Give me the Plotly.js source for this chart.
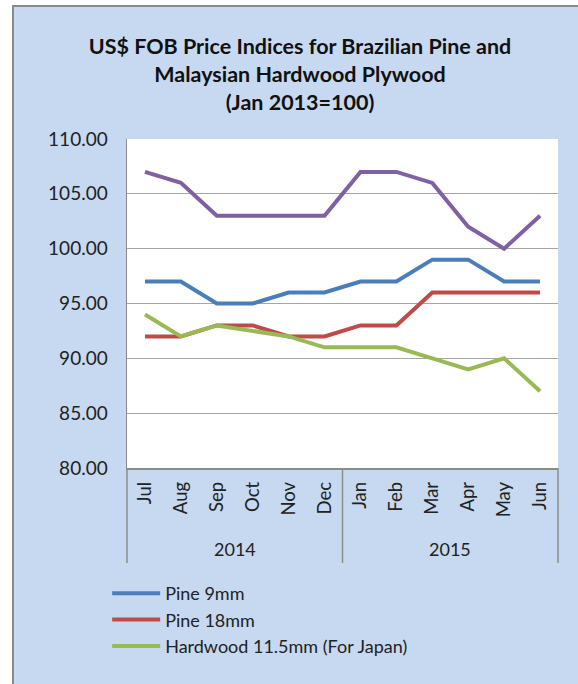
<!DOCTYPE html>
<html>
<head>
<meta charset="utf-8">
<script src="https://cdn.plot.ly/plotly-3.0.1.min.js"></script>
<style>
html,body{margin:0;padding:0;background:#ffffff;overflow:hidden;width:578px;height:684px;}
#wrap{position:absolute;left:12px;top:5px;width:570px;height:685px;border-left:2px solid #8a8a8a;border-top:2px solid #8a8a8a;background:#c6d9f1;}
#chart{width:570px;height:685px;}
</style>
</head>
<body>
<div id="wrap"><div id="chart"></div></div>
<script>
const months = ["Jul","Aug","Sep","Oct","Nov","Dec","Jan","Feb","Mar","Apr","May","Jun"];
const years = ["2014","2015"];
const yearSpans = [[0,5],[6,11]];
const pine9 = [97,97,95,95,96,96,97,97,99,99,97,97];
const pine18 = [92,92,93,93,92,92,93,93,96,96,96,96];
const hardwoodJapan = [94,92,93,92.5,92,91,91,91,90,89,90,87];
const series4 = [107,106,103,103,103,103,107,107,106,102,100,103];

const idx = months.map((m,i)=>i);
const font = "Lato, 'Open Sans', sans-serif";

const traces = [
  {x: idx, y: series4, name: "Series 4", type: "scatter", mode: "lines", line: {color: "#7f60a2", width: 4}, showlegend: false},
  {x: idx, y: pine9, name: "Pine 9mm", type: "scatter", mode: "lines", line: {color: "#4a7ebb", width: 4}, legendgroup: "a"},
  {x: idx, y: pine18, name: "Pine 18mm", type: "scatter", mode: "lines", line: {color: "#be4b48", width: 4}, legendgroup: "b"},
  {x: idx, y: hardwoodJapan, name: "Hardwood 11.5mm (For Japan)", type: "scatter", mode: "lines", line: {color: "#98b954", width: 4}, legendgroup: "c"}
];

const plotH = 329;
const annotations = years.map((yr,i)=>({
  text: yr, xref: "x", yref: "paper", x: (yearSpans[i][0]+yearSpans[i][1])/2, y: -(549-468)/plotH,
  showarrow: false, font: {family: font, size: 18, color: "#222"}, yanchor: "middle"
}));
const shapes = [];
[0, 0.5, 1].forEach(px=>{
  shapes.push({type: "line", xref: "paper", yref: "paper", x0: px, x1: px, y0: 0, y1: -(563-468)/plotH, line: {color: "#8c8c8c", width: 1.5}});
});

const layout = {
  width: 570, height: 685,
  paper_bgcolor: "#c6d9f1", plot_bgcolor: "#ffffff",
  margin: {l: 113, r: 26, t: 132, b: 224},
  title: {
    text: "<b>US$ FOB Price Indices for Brazilian Pine and<br>Malaysian Hardwood Plywood<br>(Jan 2013=100)</b>",
    font: {family: font, size: 21.5, color: "#111"},
    x: (300-14)/570, xanchor: "center", xref: "container",
    y: 1-47/685, yanchor: "top", yref: "container"
  },
  xaxis: {
    range: [-0.5, 11.5], tickvals: idx, ticktext: months, tickangle: -90,
    tickfont: {family: font, size: 18.5, color: "#222"}, showgrid: false, zeroline: false,
    showline: true, linecolor: "#8c8c8c", linewidth: 1.5, ticks: "", ticklabelstandoff: 5, fixedrange: true
  },
  yaxis: {
    range: [80, 110], dtick: 5, tick0: 80, tickformat: ".2f",
    tickfont: {family: font, size: 19, color: "#222"}, showgrid: true, gridcolor: "#a6a6a6", gridwidth: 1.3,
    zeroline: false, showline: true, linecolor: "#8c8c8c", linewidth: 1.5, ticks: "", ticklabelstandoff: 14, fixedrange: true
  },
  showlegend: true,
  legend: {
    x: -0.046, xanchor: "left", y: -(575-468)/plotH, yanchor: "top",
    bgcolor: "rgba(0,0,0,0)", font: {family: font, size: 18, color: "#222"},
    itemwidth: 48, tracegroupgap: 8, traceorder: "normal"
  },
  annotations: annotations,
  shapes: shapes
};

Plotly.newPlot("chart", traces, layout, {displayModeBar: false, staticPlot: true});
</script>
</body>
</html>
